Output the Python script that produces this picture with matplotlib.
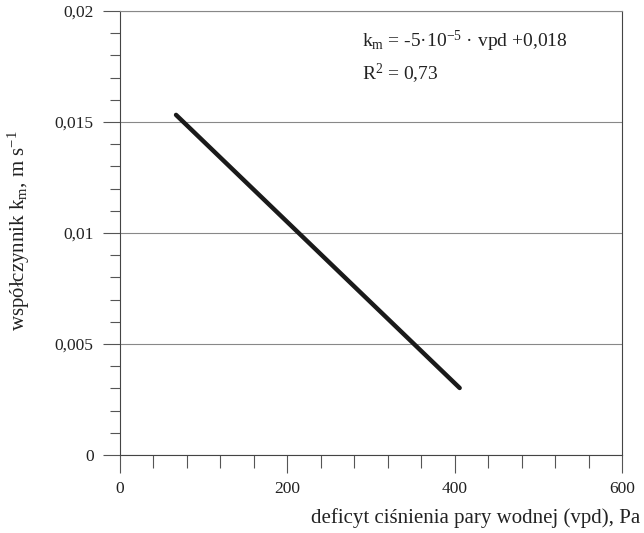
import numpy as np
import matplotlib.pyplot as plt
from matplotlib.ticker import MultipleLocator, FuncFormatter

plt.rcParams['font.family'] = ['Liberation Serif', 'DejaVu Serif']
plt.rcParams['mathtext.fontset'] = 'custom'
plt.rcParams['mathtext.rm'] = 'Liberation Serif'
plt.rcParams['mathtext.it'] = 'Liberation Serif:italic'

# fitted line endpoints
vpd = [67, 406]
km = [0.01532, 0.00302]

def comma(v, pos):
    s = ('%g' % v).replace('.', ',')
    return s

fig = plt.figure(figsize=(6.44, 5.33), dpi=100)
ax = fig.add_axes([0.1863, 0.1463, 0.7795, 0.8331])

ax.plot(vpd, km, color='#1a1a1a', lw=3.2, solid_capstyle='round')

ax.set_xlim(0, 600)
ax.set_ylim(0, 0.02)
ax.xaxis.set_major_locator(MultipleLocator(200))
ax.xaxis.set_minor_locator(MultipleLocator(40))
ax.yaxis.set_major_locator(MultipleLocator(0.005))
ax.yaxis.set_minor_locator(MultipleLocator(0.001))
ax.xaxis.set_major_formatter(FuncFormatter(comma))
ax.yaxis.set_major_formatter(FuncFormatter(comma))

ax.grid(axis='y', which='major', color='#888888', lw=0.8)
for s in ax.spines.values():
    s.set_color('#444444')
    s.set_linewidth(0.8)
ax.spines['top'].set_color('#888888')

ax.tick_params(which='major', direction='out', length=12, width=0.8, color='#555555', labelsize=12.5,
               labelcolor='#222222')
ax.tick_params(which='minor', direction='out', length=7, width=0.8, color='#555555')
ax.tick_params(axis='x', which='major', length=13, pad=6)
ax.tick_params(axis='x', which='minor', length=9)
ax.tick_params(axis='y', which='major', pad=7)

ax.text(0.483, 0.932, r'k$_{\mathrm{m}}$ = -5·10$^{\mathrm{-5}}$ · vpd +0,018', transform=ax.transAxes,
        fontsize=14, va='center', ha='left', color='#222222')
ax.text(0.483, 0.858, r'R$^{\mathrm{2}}$ = 0,73', transform=ax.transAxes,
        fontsize=14, va='center', ha='left', color='#222222')

fig.text(0.994, 0.028, 'deficyt ciśnienia pary wodnej (vpd), Pa', ha='right', va='center',
         fontsize=15, color='#222222')
fig.text(0.03, 0.568, r'współczynnik k$_{\mathrm{m}}$, m s$^{\mathrm{-1}}$', rotation=90,
         ha='center', va='center', fontsize=15, color='#222222')

fig.savefig('out.png', dpi=100)
